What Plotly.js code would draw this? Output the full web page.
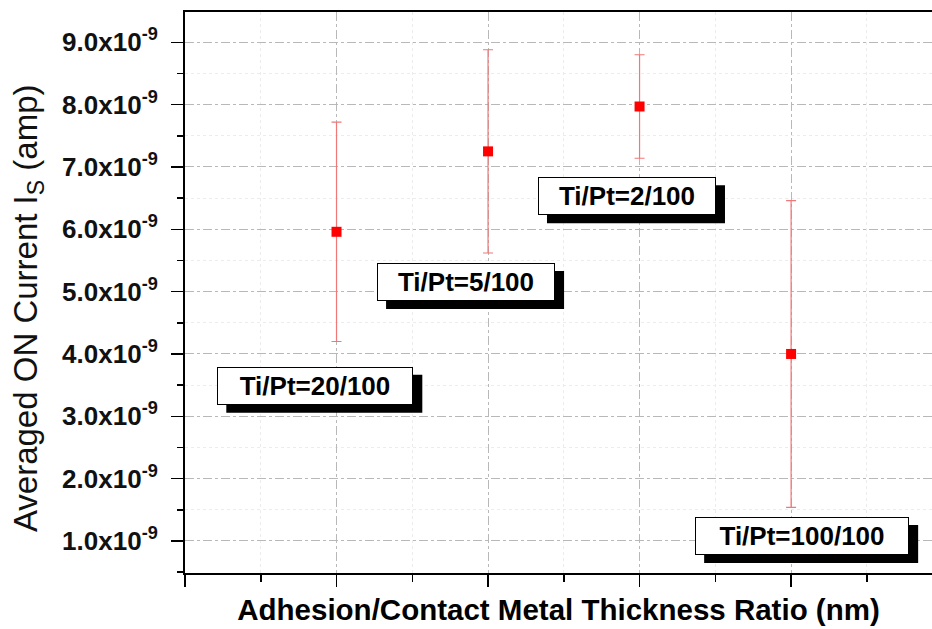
<!DOCTYPE html>
<html>
<head>
<meta charset="utf-8">
<script src="https://cdn.plot.ly/plotly-3.0.1.min.js"></script>
<style>html,body{margin:0;padding:0;background:#fff;}#chart{width:932px;height:629px;}</style>
</head>
<body>
<div id="chart"></div>
<script>
// ---- data ----
const positions = [1, 2, 3, 4];
const ratioLabels = ["Ti/Pt=20/100", "Ti/Pt=5/100", "Ti/Pt=2/100", "Ti/Pt=100/100"];
const meanCurrent = [5.96e-9, 7.25e-9, 7.97e-9, 4.00e-9];
const currentError = [1.76e-9, 1.63e-9, 0.83e-9, 2.46e-9];
const yTickVals = [1e-9, 2e-9, 3e-9, 4e-9, 5e-9, 6e-9, 7e-9, 8e-9, 9e-9];
const yTickText = ["1.0x10<sup>-9</sup>", "2.0x10<sup>-9</sup>", "3.0x10<sup>-9</sup>", "4.0x10<sup>-9</sup>",
  "5.0x10<sup>-9</sup>", "6.0x10<sup>-9</sup>", "7.0x10<sup>-9</sup>", "8.0x10<sup>-9</sup>", "9.0x10<sup>-9</sup>"];
// label placement (data coords) for the boxed captions
const labelX = [0.86, 1.855, 2.917, 4.073];
const labelY = [3.49e-9, 5.155e-9, 6.53e-9, 1.079e-9];
const labelW = [194, 176, 176, 212];

const FONT = "Liberation Sans, Arial, Helvetica, sans-serif";

const trace = {
  x: positions,
  y: meanCurrent,
  type: "scatter",
  mode: "markers",
  marker: {symbol: "square", size: 10, color: "#ff0000"},
  error_y: {type: "data", array: currentError, visible: true, color: "#f07878", thickness: 1.2, width: 5},
  hoverinfo: "x+y",
  showlegend: false
};

const annotations = [];
const shapes = [];
ratioLabels.forEach((t, i) => {
  const hw = labelW[i] / 2 + 1, hh = 19;
  // drop shadow behind each caption box (pixel-sized, anchored at the caption position)
  shapes.push({
    type: "rect", xref: "x", yref: "y", xsizemode: "pixel", ysizemode: "pixel",
    xanchor: labelX[i], yanchor: labelY[i],
    x0: -hw + 9, x1: hw + 9, y0: -hh - 8, y1: hh - 8,
    fillcolor: "#000", line: {width: 0}, layer: "above"
  });
  annotations.push({
    x: labelX[i], y: labelY[i], xref: "x", yref: "y", text: t, showarrow: false,
    font: {family: FONT, size: 26, color: "#000", weight: "bold"},
    bgcolor: "#fff", bordercolor: "#000", borderwidth: 1, borderpad: 0,
    width: labelW[i], height: 36
  });
});
annotations.push({
  x: -0.21, y: 0.4724, xref: "paper", yref: "paper", xanchor: "center", yanchor: "middle",
  text: "Averaged ON Current I<sub>S</sub> (amp)", textangle: -90, showarrow: false,
  font: {family: FONT, size: 33, color: "#111"}
});

const layout = {
  width: 932, height: 629,
  margin: {l: 185, r: 0, t: 12, b: 56},
  paper_bgcolor: "#fff", plot_bgcolor: "#fff",
  showlegend: false,
  xaxis: {
    range: [0, 4.93], tickmode: "linear", tick0: 0, dtick: 1,
    showticklabels: false, ticks: "outside", ticklen: 12, tickwidth: 1.5, tickcolor: "#000",
    showline: true, linecolor: "#000", linewidth: 2, mirror: true,
    showgrid: true, gridcolor: "#b8b8b8", griddash: "dashdot", gridwidth: 1,
    zeroline: false,
    minor: {tickmode: "linear", tick0: 0.5, dtick: 1, ticks: "outside", ticklen: 7, tickwidth: 1.5, tickcolor: "#000",
      showgrid: true, gridcolor: "#ececec", griddash: "dot", gridwidth: 1},
    title: {text: "Adhesion/Contact Metal Thickness Ratio (nm)", standoff: 13,
      font: {family: FONT, size: 29.5, color: "#000", weight: "bold"}},
    automargin: false
  },
  yaxis: {
    range: [0.486e-9, 9.486e-9], tickmode: "array", tickvals: yTickVals, ticktext: yTickText,
    ticks: "outside", ticklen: 12, tickwidth: 1.5, tickcolor: "#000",
    showline: true, linecolor: "#000", linewidth: 2, mirror: false,
    showgrid: true, gridcolor: "#b8b8b8", griddash: "dashdot", gridwidth: 1,
    zeroline: false,
    tickfont: {family: FONT, size: 26, color: "#111", weight: "bold"},
    ticklabelstandoff: 8,
    minor: {tickmode: "linear", tick0: 0.5e-9, dtick: 1e-9, ticks: "outside", ticklen: 6, tickwidth: 1.5, tickcolor: "#000",
      showgrid: true, gridcolor: "#ececec", griddash: "dot", gridwidth: 1},
    automargin: false
  },
  shapes: shapes,
  annotations: annotations
};

Plotly.newPlot("chart", [trace], layout, {displayModeBar: false, staticPlot: true});
</script>
</body>
</html>
